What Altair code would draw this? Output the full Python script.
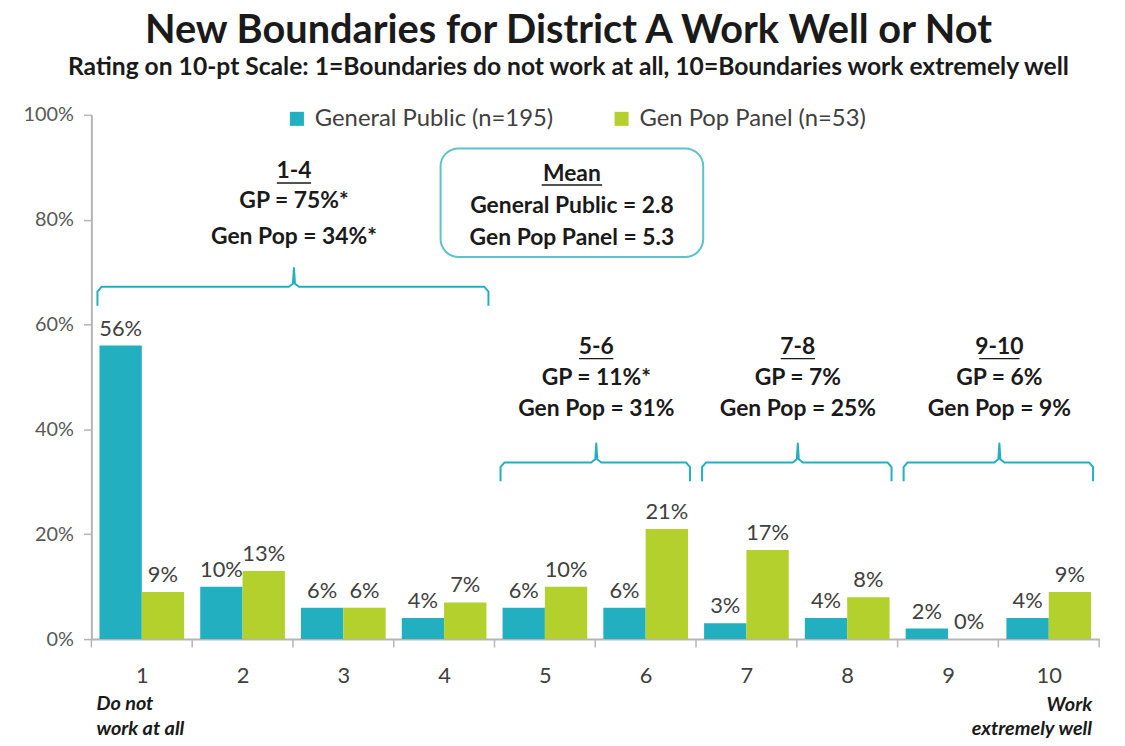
import altair as alt
import pandas as pd

# ---------------- data ----------------
categories = list(range(1, 11))
general_public = [56, 10, 6, 4, 6, 6, 3, 4, 2, 4]
gen_pop_panel = [9, 13, 6, 7, 10, 21, 17, 8, 0, 9]
series_names = ["General Public (n=195)", "Gen Pop Panel (n=53)"]

group_labels = ["1-4", "5-6", "7-8", "9-10"]
group_start = [1, 5, 7, 9]
group_end = [4, 6, 8, 10]
group_gp = ["GP = 75%*", "GP = 11%*", "GP = 7%", "GP = 6%"]
group_genpop = ["Gen Pop = 34%*", "Gen Pop = 31%", "Gen Pop = 25%", "Gen Pop = 9%"]

mean_lines = ["Mean", "General Public = 2.8", "Gen Pop Panel = 5.3"]

title_text = "New Boundaries for District A Work Well or Not"
subtitle_text = "Rating on 10-pt Scale: 1=Boundaries do not work at all, 10=Boundaries work extremely well"

# ---------------- styles / layout ----------------
TEAL = "#22AFBF"
LIME = "#B3D02C"
TXT = "#1a1a1a"
LBL = "#404040"
AXC = "#595959"
FONT = "Lato"
BAR_W = 0.42

# annotation layout (data units: x in category units, y in percent)
brace_levels = [(63.6, 67.2, 70.8), (30.1, 33.7, 37.3), (30.1, 33.7, 37.3), (30.1, 33.7, 37.3)]
text_levels = [(89.2, 83.5, 76.6), (55.7, 49.8, 43.8), (55.7, 49.8, 43.8), (55.7, 49.8, 43.8)]
underline_hw = [0.17, 0.17, 0.17, 0.2]
mean_box = dict(x0=3.965, x1=6.571, y0=72.9, y1=93.6)
mean_text_y = [88.8, 82.6, 76.5]
mean_underline_hw = 0.30

# ---------------- tables ----------------
rows = []
for c, a, b in zip(categories, general_public, gen_pop_panel):
    rows.append(dict(cat=c, series=series_names[0], value=a, side=-1))
    rows.append(dict(cat=c, series=series_names[1], value=b, side=1))
bars_df = pd.DataFrame(rows)

brace_rows = []
ann_rows = []
ul_rows = []
for i, lab in enumerate(group_labels):
    L = group_start[i] - 0.44
    R = group_end[i] + 0.44
    C = (group_start[i] + group_end[i]) / 2 + 0.01
    low, h, tip = brace_levels[i]
    pts = [(L, low), (L, h - 0.9), (L + 0.04, h), (C - 0.05, h), (C - 0.01, h + 0.6), (C, tip),
           (C + 0.01, h + 0.6), (C + 0.05, h), (R - 0.04, h), (R, h - 0.9), (R, low)]
    for k, (px, py) in enumerate(pts):
        brace_rows.append(dict(g=lab, k=k, x=px, y=py))
    t0, t1, t2 = text_levels[i]
    ann_rows += [dict(x=C, y=t0, t=lab), dict(x=C, y=t1, t=group_gp[i]),
                 dict(x=C, y=t2, t=group_genpop[i])]
    ul_rows.append(dict(x0=C - underline_hw[i], x1=C + underline_hw[i], y=t0 - 2.2))

mx = (mean_box["x0"] + mean_box["x1"]) / 2
for t, yy in zip(mean_lines, mean_text_y):
    ann_rows.append(dict(x=mx, y=yy, t=t))
ul_rows.append(dict(x0=mx - mean_underline_hw, x1=mx + mean_underline_hw, y=mean_text_y[0] - 2.2))

brace_df = pd.DataFrame(brace_rows)
ann_df = pd.DataFrame(ann_rows)
ul_df = pd.DataFrame(ul_rows)
box_df = pd.DataFrame([mean_box])
tick_df = pd.DataFrame(dict(x=[c - 0.5 for c in categories] + [categories[-1] + 0.5]))
tick_df["y0"] = 0
tick_df["y1"] = -1.6
end_left_df = pd.DataFrame([dict(x=0.55, y=-12.3, t="Do not"),
                            dict(x=0.55, y=-17.1, t="work at all")])
end_right_df = pd.DataFrame([dict(x=10.43, y=-12.6, t="Work"),
                             dict(x=10.43, y=-17.1, t="extremely well")])

# ---------------- scales ----------------
xscale = alt.Scale(domain=[0.5, 10.5], nice=False, zero=False)
yscale = alt.Scale(domain=[0, 100], nice=False)
xaxis = alt.Axis(values=categories, tickSize=0, labelPadding=27, labelFontSize=22,
                 labelColor=LBL, labelFont=FONT, domainColor="#b5b5b5", domainWidth=2,
                 grid=False, title=None, labelFlush=False)
yaxis = alt.Axis(values=[0, 20, 40, 60, 80, 100], labelExpr="datum.value + '%'",
                 tickSize=8, tickColor="#b5b5b5", tickWidth=1.5, labelPadding=10,
                 labelFontSize=20, labelColor=AXC, labelFont=FONT,
                 domainColor="#b5b5b5", domainWidth=2, grid=False, title=None)


def X(f):
    return alt.X(f, type="quantitative", scale=xscale, axis=xaxis)


def Y(f):
    return alt.Y(f, type="quantitative", scale=yscale, axis=yaxis)


color = alt.Color("series:N", scale=alt.Scale(domain=series_names, range=[TEAL, LIME]),
                  legend=alt.Legend(orient="none", legendX=195, legendY=-8, direction="horizontal",
                                    title=None, symbolType="square", symbolSize=200,
                                    symbolStrokeWidth=0, labelFontSize=24, labelFont=FONT,
                                    labelColor=LBL, columnPadding=56, labelOffset=6,
                                    labelLimit=400))

base_bars = alt.Chart(bars_df).transform_calculate(
    xs=f"datum.cat + (datum.side < 0 ? -{BAR_W} : 0)",
    xe=f"datum.cat + (datum.side < 0 ? 0 : {BAR_W})",
    xm=f"datum.cat + datum.side * {BAR_W / 2}",
    lab="datum.value + '%'",
)

bars = base_bars.mark_bar().encode(
    x=X("xs"), x2="xe", y=Y("value"), y2=alt.datum(0), color=color,
)

bar_labels = base_bars.mark_text(baseline="alphabetic", dy=-10, fontSize=22, font=FONT,
                                 color=LBL).encode(
    x=X("xm"), y=Y("value"), text="lab:N")

ticks = alt.Chart(tick_df).mark_rule(color="#b5b5b5", strokeWidth=1.5).encode(
    x=X("x"), y=Y("y0"), y2="y1")

braces = alt.Chart(brace_df).mark_line(color=TEAL, strokeWidth=2, strokeJoin="round").encode(
    x=X("x"), y=Y("y"), detail="g:N", order="k:Q")

box = alt.Chart(box_df).mark_rect(cornerRadius=18, fill="white", stroke="#5CC3CC",
                                  strokeWidth=2).encode(
    x=X("x0"), x2="x1", y=Y("y0"), y2="y1")

ann = alt.Chart(ann_df).mark_text(fontSize=23, fontWeight="bold", font=FONT, color=TXT,
                                  baseline="middle").encode(
    x=X("x"), y=Y("y"), text="t:N")

ul = alt.Chart(ul_df).mark_rule(color=TXT, strokeWidth=1.5).encode(
    x=X("x0"), x2="x1", y=Y("y"))

ends_left = alt.Chart(end_left_df).mark_text(
    fontSize=20, fontWeight="bold", fontStyle="italic", font=FONT, color=TXT,
    baseline="middle", align="left").encode(x=X("x"), y=Y("y"), text="t:N")
ends_right = alt.Chart(end_right_df).mark_text(
    fontSize=20, fontWeight="bold", fontStyle="italic", font=FONT, color=TXT,
    baseline="middle", align="right").encode(x=X("x"), y=Y("y"), text="t:N")

chart = alt.layer(
    bars, bar_labels, ticks, braces, box, ann, ul, ends_left, ends_right
).properties(
    width=1015, height=528,
    autosize=alt.AutoSizeParams(type="none"),
    padding={"left": 84, "top": 105, "right": 18, "bottom": 97},
    title=alt.Title(title_text, subtitle=subtitle_text, anchor="middle", font=FONT,
                    fontSize=40, fontWeight="bold", color=TXT, subtitleFont=FONT,
                    subtitleFontSize=24.8, subtitleFontWeight="bold", subtitleColor=TXT,
                    subtitlePadding=5, offset=25, dx=-27),
).configure(font=FONT).configure_view(stroke=None)

chart.save("out.html", embed_options={"renderer": "svg", "actions": False})
